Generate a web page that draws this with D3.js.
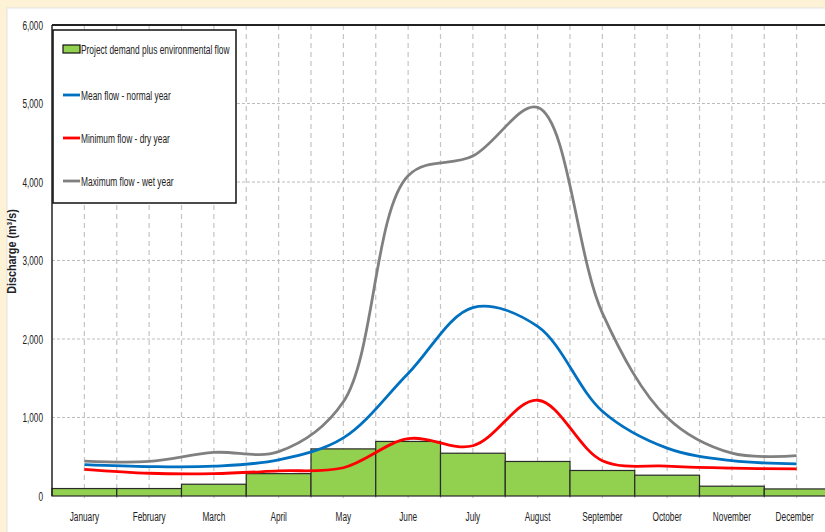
<!DOCTYPE html>
<html><head><meta charset="utf-8">
<script src="https://cdn.jsdelivr.net/npm/d3@7"></script>
<style>
html,body{margin:0;padding:0;background:#fdf1d6;}
svg{display:block;}
text{font-family:"Liberation Sans","Arial",sans-serif;fill:#222;}
</style></head><body>
<svg id="c" width="825" height="532"></svg>
<script>
const months = ["January","February","March","April","May","June","July","August","September","October","November","December"];
const demand = [95, 95, 150, 285, 600, 695, 545, 440, 325, 265, 125, 90];
const meanFlow = [400, 375, 380, 460, 740, 1560, 2400, 2160, 1080, 610, 450, 410];
const minFlow = [340, 290, 285, 320, 360, 730, 640, 1220, 450, 380, 355, 345];
const maxFlow = [445, 440, 555, 565, 1200, 4080, 4330, 4950, 2330, 1000, 545, 515];
const yTicks = [0, 1000, 2000, 3000, 4000, 5000, 6000];
const seriesNames = ["Project demand plus environmental flow","Mean flow - normal year","Minimum flow - dry year","Maximum flow - wet year"];
const colors = {demand:"#92d050", mean:"#0070c0", min:"#ff0000", max:"#808080"};

(function(){
const svg = d3.select("#c");
svg.append("rect").attr("x",7).attr("y",8).attr("width",830).attr("height",540).attr("fill","#fff").attr("stroke","#e3e3e3");

const pl = 52, pr = 829, pt = 25, pb = 496;
const x = d3.scaleBand().domain(months).range([pl, pr]).paddingInner(0).paddingOuter(0);
const y = d3.scaleLinear().domain([0, 6000]).range([pb, pt]);
const cx = m => x(m) + x.bandwidth()/2;

function condense(sel, k){
  sel.each(function(){
    const w = this.getComputedTextLength();
    this.setAttribute("textLength", (w*k).toFixed(1));
    this.setAttribute("lengthAdjust","spacingAndGlyphs");
  });
}

const vpos = [];
months.forEach((m,i)=>{ if(i>0) vpos.push(x(m)); vpos.push(cx(m)); });
vpos.push(pr);
svg.append("g").selectAll("line").data(vpos).join("line")
  .attr("x1",d=>d).attr("x2",d=>d).attr("y1",pt).attr("y2",pb+6)
  .attr("stroke","#c4c4c4").attr("stroke-width",1.2).attr("stroke-dasharray","5,4");
svg.append("g").selectAll("line").data(yTicks.filter(t=>t>0 && t<6000)).join("line")
  .attr("x1",pl).attr("x2",825).attr("y1",d=>y(d)).attr("y2",d=>y(d))
  .attr("stroke","#bdbdbd").attr("stroke-width",1.2).attr("stroke-dasharray","3,2");

svg.append("g").selectAll("rect").data(months).join("rect")
  .attr("x",m=>x(m)).attr("width",x.bandwidth())
  .attr("y",(m,i)=>y(demand[i])).attr("height",(m,i)=>pb - y(demand[i]))
  .attr("fill",colors.demand).attr("stroke","#2a2a2a").attr("stroke-width",1.2);

const line = d3.line().x((d,i)=>cx(months[i])).y(d=>y(d)).curve(d3.curveCatmullRom.alpha(0.5));
[[maxFlow,colors.max],[meanFlow,colors.mean],[minFlow,colors.min]].forEach(([data,c])=>{
  svg.append("path").datum(data).attr("d",line).attr("fill","none")
    .attr("stroke",c).attr("stroke-width",2.8).attr("stroke-linejoin","round");
});

const yAxis = d3.axisLeft(y).tickValues(yTicks).tickSize(0).tickPadding(9).tickFormat(d3.format(","));
const gy = svg.append("g").attr("transform",`translate(${pl},0)`).call(yAxis);
gy.select(".domain").remove();
gy.selectAll("text").attr("font-size",12.5).attr("font-family",null).attr("fill","#222").call(condense,0.66);
svg.append("line").attr("x1",pl).attr("x2",pl).attr("y1",pt).attr("y2",pb).attr("stroke","#222").attr("stroke-width",1.5);
svg.append("line").attr("x1",pl).attr("x2",825).attr("y1",pt).attr("y2",pt).attr("stroke","#222").attr("stroke-width",2);

const xAxis = d3.axisBottom(x).tickSize(0).tickPadding(16);
const gx = svg.append("g").attr("transform",`translate(0,${pb})`).call(xAxis);
gx.select(".domain").remove();
gx.selectAll("text").attr("font-size",12.5).attr("font-family",null).attr("fill","#222")
  .attr("transform",d=> d==="December" ? "translate(-2,0) scale(0.66,1)" : "scale(0.66,1)");

svg.append("text").attr("transform",`translate(16,${(pt+pb)/2 - 9}) rotate(-90)`)
  .attr("text-anchor","middle").attr("font-size",12).attr("font-weight","bold")
  .text("Discharge (m³/s)").call(condense,0.9);

const lg = svg.append("g");
lg.append("rect").attr("x",53).attr("y",30).attr("width",183).attr("height",173)
  .attr("fill","#fff").attr("stroke","#111").attr("stroke-width",1.5);
const ly = [49, 95, 138, 181];
lg.append("rect").attr("x",63).attr("y",ly[0]-4).attr("width",17).attr("height",8)
  .attr("fill",colors.demand).attr("stroke","#111").attr("stroke-width",1.2);
[colors.mean,colors.min,colors.max].forEach((c,i)=>{
  lg.append("line").attr("x1",63).attr("x2",80).attr("y1",ly[i+1]).attr("y2",ly[i+1]).attr("stroke",c).attr("stroke-width",2.8);
});
lg.selectAll("text").data(seriesNames).join("text")
  .attr("x",81).attr("y",(s,i)=>ly[i]+4.5).attr("font-size",12.5).text(s=>s).call(condense,0.67);
})();
</script></body></html>
